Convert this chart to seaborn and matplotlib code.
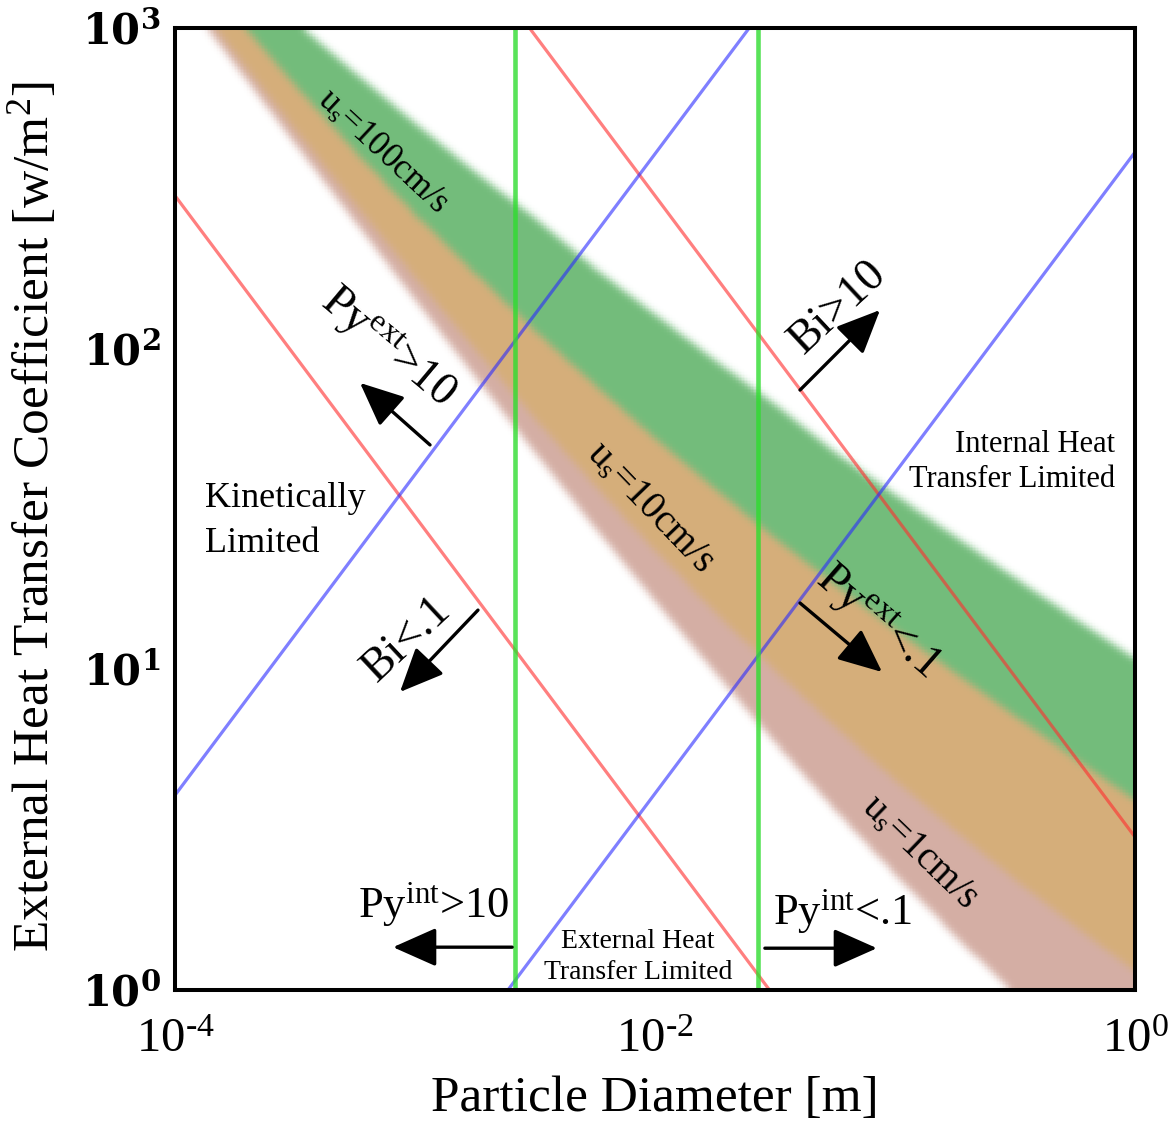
import numpy as np
import matplotlib
matplotlib.use("Agg")
import matplotlib.pyplot as plt
from matplotlib.ticker import LogLocator, NullLocator, NullFormatter, FixedLocator, FixedFormatter
import seaborn as sns

# ---- data ---------------------------------------------------------------
# particle diameters [m] at which the band boundaries are tabulated
band_d = [1e-4, 1.78e-4, 3.16e-4, 5.62e-4, 1e-3, 1.78e-3, 3.16e-3, 5.62e-3,
          1e-2, 1.78e-2, 3.16e-2, 5.62e-2, 0.1, 0.178, 0.316, 0.562, 1.0]
# heat transfer coefficient boundaries [W/m2K]
green_top = [2450, 1580, 1050, 725, 505, 355, 255, 178, 128, 92.0, 67.0, 47.5,
             35.0, 26.0, 19.3, 14.4, 10.8]
green_bottom = [1810, 1090, 665, 413, 262, 172, 114, 77.0, 52.5, 36.5, 25.7,
                18.4, 13.3, 9.74, 7.15, 5.28, 3.91]
orange_bottom = [1450, 833, 483, 282, 167, 99.6, 60.5, 37.3, 23.5, 15.1, 9.91,
                 6.63, 4.52, 3.14, 2.21, 1.58, 1.14]
pink_bottom = [1350, 766, 435, 248, 142, 81.6, 47.3, 27.6, 16.3, 9.74, 5.90,
               3.64, 2.29, 1.47, 0.963, 0.644, 0.439]

# Biot number limits (h*d constant): endpoints at d = 1e-4 and d = 1
bi_low_line = ([1e-4, 1.0], [300.0, 0.03])
bi_high_line = ([1e-4, 1.0], [3.0e4, 3.0])
# external pyrolysis number limits (h/d constant)
py_ext_high_line = ([1e-4, 1.0], [4.05, 4.05e4])
py_ext_low_line = ([1e-4, 1.0], [0.041, 410.0])
# internal pyrolysis number limits (fixed diameters)
py_int_diams = [2.6e-3, 2.68e-2]

x_ticks = [1e-4, 1e-2, 1.0]
x_tick_labels = ["10$^{\u20104}$", "10$^{\u20102}$", "10$^{0}$"]
y_ticks = [1, 10, 100, 1000]
y_tick_labels = [r"$\mathbf{10^{0}}$", r"$\mathbf{10^{1}}$",
                 r"$\mathbf{10^{2}}$", r"$\mathbf{10^{3}}$"]

band_colors = {"green": "#73bc7b", "orange": "#d5ae7a", "pink": "#d4aea4"}

# ---- style --------------------------------------------------------------
sns.set_theme(style="ticks")
plt.rcParams["font.family"] = ["Liberation Serif", "DejaVu Serif"]
plt.rcParams["mathtext.fontset"] = "custom"
plt.rcParams["mathtext.rm"] = "Liberation Serif"
plt.rcParams["mathtext.it"] = "Liberation Serif:italic"
plt.rcParams["mathtext.bf"] = "Liberation Serif:bold"
for key in ("text.color", "axes.labelcolor", "xtick.color", "ytick.color",
            "axes.edgecolor"):
    plt.rcParams[key] = "black"

fig = plt.figure(figsize=(11.69, 11.24), dpi=100)
ax = fig.add_axes([175 / 1169, 1 - 990 / 1124, 960 / 1169, 962 / 1124])
ax.set_xscale("log")
ax.set_yscale("log")
ax.set_xlim(1e-4, 1)
ax.set_ylim(1, 1000)

# ---- soft-edged velocity bands -----------------------------------------
nx, ny = 640, 640
ld_edges = np.linspace(-4, 0, nx + 1)
lh_edges = np.linspace(0, 3, ny + 1)
ld_c = 0.5 * (ld_edges[1:] + ld_edges[:-1])
lh_c = 0.5 * (lh_edges[1:] + lh_edges[:-1])[:, None]

log_d = np.log10(band_d)
gt = np.interp(ld_c, log_d, np.log10(green_top))[None, :]
gb = np.interp(ld_c, log_d, np.log10(green_bottom))[None, :]
ob = np.interp(ld_c, log_d, np.log10(orange_bottom))[None, :]
pb = np.interp(ld_c, log_d, np.log10(pink_bottom))[None, :]

rgb = np.ones((ny, nx, 3))
for mask, key in [((lh_c > pb) & (lh_c <= ob), "pink"),
                  ((lh_c > ob) & (lh_c <= gb), "orange"),
                  ((lh_c > gb) & (lh_c <= gt), "green")]:
    rgb[mask] = matplotlib.colors.to_rgb(band_colors[key])


def soften(img, sigma, axis):
    k = int(3 * sigma)
    w = np.exp(-np.arange(-k, k + 1) ** 2 / (2 * sigma ** 2))
    w /= w.sum()
    pad = [(0, 0)] * img.ndim
    pad[axis] = (k, k)
    p = np.pad(img, pad, mode="edge")
    n = img.shape[axis]
    out = np.zeros_like(img)
    for i, wi in enumerate(w):
        out += wi * np.take(p, np.arange(i, i + n), axis=axis)
    return out


rgb = soften(soften(rgb, 2.6, 0), 2.6, 1)
ax.pcolormesh(10 ** ld_edges, 10 ** lh_edges, np.clip(rgb, 0, 1),
              shading="flat", zorder=1, rasterized=True)

# ---- regime boundary lines ---------------------------------------------
for xs, ys in (bi_low_line, bi_high_line):
    sns.lineplot(x=xs, y=ys, ax=ax, color="#ff3030", lw=2.3, alpha=0.62, zorder=2)
for xs, ys in (py_ext_high_line, py_ext_low_line):
    sns.lineplot(x=xs, y=ys, ax=ax, color="#2a2aff", lw=2.3, alpha=0.6, zorder=2)
for dv in py_int_diams:
    ax.axvline(dv, color="#2fdc2f", lw=3.3, alpha=0.8, zorder=2)

# ---- arrows -------------------------------------------------------------
arrows = [
    ((1.155e-3, 50.1), (5.9e-4, 78.2)),
    ((0.0402, 74.3), (0.0866, 132.0)),
    ((1.83e-3, 15.3), (8.66e-4, 8.5)),
    ((0.0402, 16.1), (0.0883, 9.81)),
    ((2.54e-3, 1.36), (8.1e-4, 1.36)),
    ((0.0287, 1.35), (0.0841, 1.35)),
]
for tail, head in arrows:
    ax.annotate("", xy=head, xytext=tail, zorder=4,
                arrowprops=dict(arrowstyle="-|>,head_length=0.9,head_width=0.4",
                                lw=2.4, color="black", mutation_scale=30,
                                shrinkA=0, shrinkB=0))

# ---- annotations ---------------------------------------------------------
txt = dict(color="black", zorder=5, rotation_mode="anchor")
ax.text(7.72e-4, 100.5, r"Py$^{\mathrm{ext}}$>10", fontsize=33, rotation=-40,
        ha="center", va="center", **txt)
ax.text(0.0579, 134, "Bi>10", fontsize=33, rotation=43, ha="center", va="center", **txt)
ax.text(9.26e-4, 12.35, "Bi<.1", fontsize=33, rotation=43, ha="center", va="center", **txt)
ax.text(0.0849, 14.05, r"Py$^{\mathrm{ext}}$<.1", fontsize=33, rotation=-41,
        ha="center", va="center", **txt)
ax.text(1.2e-3, 1.84, r"Py$^{\mathrm{int}}$>10", fontsize=32, ha="center",
        va="center", **txt)
ax.text(0.0607, 1.75, r"Py$^{\mathrm{int}}$<.1", fontsize=32, ha="center",
        va="center", **txt)
ax.text(1.33e-4, 29.0, "Kinetically\nLimited", fontsize=26, ha="left",
        va="center", linespacing=1.45, **txt)
ax.text(0.825, 44.3, "Internal Heat\nTransfer Limited", fontsize=22,
        ha="right", va="center", multialignment="right", linespacing=1.3, **txt)
ax.text(8.5e-3, 1.27, "External Heat\nTransfer Limited", fontsize=20,
        ha="center", va="center", multialignment="center", linespacing=1.3, **txt)
ax.text(7.29e-4, 410, r"u$_{\mathrm{s}}$=100cm/s", fontsize=25, rotation=-43,
        ha="center", va="center", **txt)
ax.text(9.53e-3, 31.8, r"u$_{\mathrm{s}}$=10cm/s", fontsize=28, rotation=-46,
        ha="center", va="center", **txt)
ax.text(0.127, 2.69, r"u$_{\mathrm{s}}$=1cm/s", fontsize=28, rotation=-44,
        ha="center", va="center", **txt)

# ---- axes, ticks, labels ------------------------------------------------
ax.xaxis.set_major_locator(FixedLocator(x_ticks))
ax.xaxis.set_major_formatter(FixedFormatter(x_tick_labels))
ax.xaxis.set_minor_locator(NullLocator())
ax.yaxis.set_major_locator(FixedLocator(y_ticks))
ax.yaxis.set_major_formatter(FixedFormatter(y_tick_labels))
ax.yaxis.set_minor_locator(LogLocator(base=10, subs=np.arange(2, 10)))
ax.yaxis.set_minor_formatter(NullFormatter())

ax.tick_params(axis="x", which="major", direction="in", length=7, width=2.8,
               top=True, bottom=True, labelsize=35, pad=20, colors="black")
ax.tick_params(axis="y", which="major", direction="in", length=14, width=1.8,
               left=True, right=True, labelsize=30, pad=10, colors="black")
ax.tick_params(axis="y", which="minor", direction="in", length=8.5, width=1.8,
               left=True, right=True)
for t in ax.get_yticklabels():
    t.set_math_fontfamily("dejavuserif")

for s in ax.spines.values():
    s.set_linewidth(2.9)
    s.set_color("black")
    s.set_zorder(6)

ax.set_xlabel("Particle Diameter [m]", fontsize=37, labelpad=10)
ax.set_ylabel(r"External Heat Transfer Coefficient [w/m$^{2}$]", fontsize=37)
ax.yaxis.set_label_coords(-0.121, 0.492)

fig.savefig("out.png", dpi=100)
